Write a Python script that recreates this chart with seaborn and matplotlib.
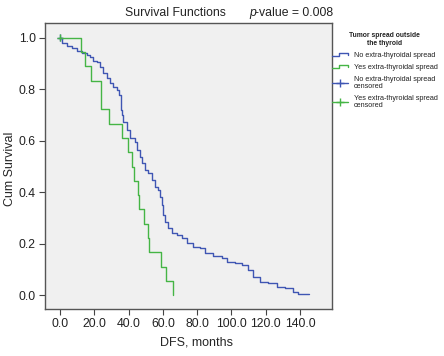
import numpy as np
import pandas as pd
import matplotlib
matplotlib.use('Agg')
import matplotlib.pyplot as plt
from matplotlib.lines import Line2D
from matplotlib.legend_handler import HandlerBase
import seaborn as sns

# Kaplan-Meier step points (time in months, cum survival)
no_time = [0, 1, 3.9, 6.8, 9.7, 12.6, 15.6, 17.5, 19.4, 21.4, 23.3, 25.3, 27.2, 29.2, 31.1,
           33.1, 34.4, 35.4, 35.8, 36.2, 36.9, 38.9, 40.8, 43.8, 45.1, 46.7, 47.6, 49.6,
           51.5, 53.5, 55.4, 57, 58.3, 59.5, 60.3, 61.3, 63.2, 65.2, 68.1, 71, 73.9, 77.8,
           81.7, 84.6, 89.4, 94.3, 97.2, 102.1, 106, 109.9, 112.8, 116.7, 121.5, 126.4,
           131.3, 136.1, 139, 145.5]
no_surv = [1.0, 0.982, 0.969, 0.96, 0.951, 0.94, 0.934, 0.925, 0.912, 0.905, 0.888, 0.863,
           0.843, 0.824, 0.808, 0.798, 0.778, 0.745, 0.72, 0.70, 0.674, 0.642, 0.61, 0.597,
           0.564, 0.538, 0.512, 0.486, 0.473, 0.447, 0.421, 0.409, 0.382, 0.35, 0.311,
           0.285, 0.259, 0.24, 0.233, 0.221, 0.201, 0.188, 0.182, 0.162, 0.152, 0.143,
           0.13, 0.123, 0.117, 0.097, 0.071, 0.052, 0.046, 0.03, 0.026, 0.013, 0.004, 0.004]

yes_time = [0, 12.3, 14.6, 18, 24, 28.8, 36, 39.9, 42.3, 43.3, 45.3, 46.2, 49.2, 51.1,
            52.1, 59.1, 61.9, 66.1]
yes_surv = [1.0, 0.944, 0.889, 0.833, 0.722, 0.667, 0.611, 0.556, 0.5, 0.444, 0.389,
            0.333, 0.278, 0.222, 0.167, 0.111, 0.056, 0.0]

# censored observations
no_cens_time = [0]
no_cens_surv = [1.0]
yes_cens_time = [0]
yes_cens_surv = [1.0]

groups = ['No extra-thyroidal spread', 'Yes extra-thyroidal spread']
colors = {'No extra-thyroidal spread': '#3f56b3', 'Yes extra-thyroidal spread': '#45b545'}
x_ticks = [0, 20, 40, 60, 80, 100, 120, 140]
y_ticks = [0.0, 0.2, 0.4, 0.6, 0.8, 1.0]

df = pd.concat([
    pd.DataFrame({'time': no_time, 'surv': no_surv, 'group': groups[0]}),
    pd.DataFrame({'time': yes_time, 'surv': yes_surv, 'group': groups[1]}),
])
cens = pd.concat([
    pd.DataFrame({'time': no_cens_time, 'surv': no_cens_surv, 'group': groups[0]}),
    pd.DataFrame({'time': yes_cens_time, 'surv': yes_cens_surv, 'group': groups[1]}),
])

sns.set_theme(style='ticks')
plt.rcParams['font.family'] = ['Liberation Sans', 'DejaVu Sans']
plt.rcParams['text.color'] = '#222222'

W, H = 444, 356
fig = plt.figure(figsize=(W / 100, H / 100), dpi=100)
fig.patch.set_facecolor('white')
# axes box in pixels: left 45, right 332, top 23, bottom 309
ax = fig.add_axes([45 / W, 1 - 309 / H, (332 - 45) / W, (309 - 23) / H])
ax.set_facecolor('#f0f0f0')

sns.lineplot(data=df, x='time', y='surv', hue='group', palette=colors, estimator=None,
             sort=False, drawstyle='steps-post', lw=1.0, legend=False, ax=ax)
sns.scatterplot(data=cens, x='time', y='surv', hue='group', palette=colors, marker='+',
                s=25, linewidth=1.0, legend=False, ax=ax)

ax.set_xlim(-8.75, 158.7)
ax.set_ylim(-0.054, 1.058)
ax.set_xticks(x_ticks)
ax.set_xticklabels([f'{v:.1f}' for v in x_ticks])
ax.set_yticks(y_ticks)
ax.set_yticklabels([f'{v:.1f}' for v in y_ticks])
ax.tick_params(axis='both', labelsize=8.8, length=4, width=0.8, color='#444444',
               labelcolor='#222222', pad=2.5)
for sp in ax.spines.values():
    sp.set_visible(True)
    sp.set_color('#555555')
    sp.set_linewidth(1.0)

ax.set_xlabel('DFS, months', fontsize=9)
ax.set_ylabel('Cum Survival', fontsize=9)
ax.xaxis.set_label_coords((197 - 45) / 287, -0.095)
ax.yaxis.set_label_coords(-0.1, 0.49)

fig.text(175 / W, 1 - 13 / H, 'Survival Functions', ha='center', va='center', fontsize=8.8)
fig.text(249 / W, 1 - 13 / H, 'p', ha='left', va='center', fontsize=8.8, style='italic')
fig.text(255 / W, 1 - 13 / H, '-value = 0.008', ha='left', va='center', fontsize=8.8)


class StepHandler(HandlerBase):
    def create_artists(self, legend, orig, xd, yd, w, h, fontsize, trans):
        c = orig.get_color()
        ln = Line2D([-xd, -xd + 0.45 * w, -xd + 0.45 * w, -xd + w, -xd + w],
                    [-yd + 0.15 * h, -yd + 0.15 * h, -yd + 0.8 * h, -yd + 0.8 * h, -yd + 0.45 * h],
                    color=c, lw=1.0, transform=trans)
        return [ln]


h1 = Line2D([], [], color=colors[groups[0]])
h2 = Line2D([], [], color=colors[groups[1]])
h3 = Line2D([], [], color=colors[groups[0]], marker='+', markersize=6, lw=1.0)
h4 = Line2D([], [], color=colors[groups[1]], marker='+', markersize=6, lw=1.0)
leg = ax.legend([h1, h2, h3, h4],
                ['No extra-thyroidal spread', 'Yes extra-thyroidal spread',
                 'No extra-thyroidal spread\ncensored', 'Yes extra-thyroidal spread\ncensored'],
                handler_map={h1: StepHandler(), h2: StepHandler()},
                title='Tumor spread outside\nthe thyroid', loc='upper left',
                bbox_to_anchor=(332 / W, 1 - 32 / H), bbox_transform=fig.transFigure,
                frameon=False, borderpad=0, borderaxespad=0, fontsize=5.2,
                handlelength=2.2, handletextpad=0.8, labelspacing=0.7,
                title_fontproperties={'weight': 'bold', 'size': 4.9})
leg.get_title().set_multialignment('center')
for t in leg.get_texts():
    t.set_linespacing(0.95)

fig.savefig('out.png', dpi=100)
